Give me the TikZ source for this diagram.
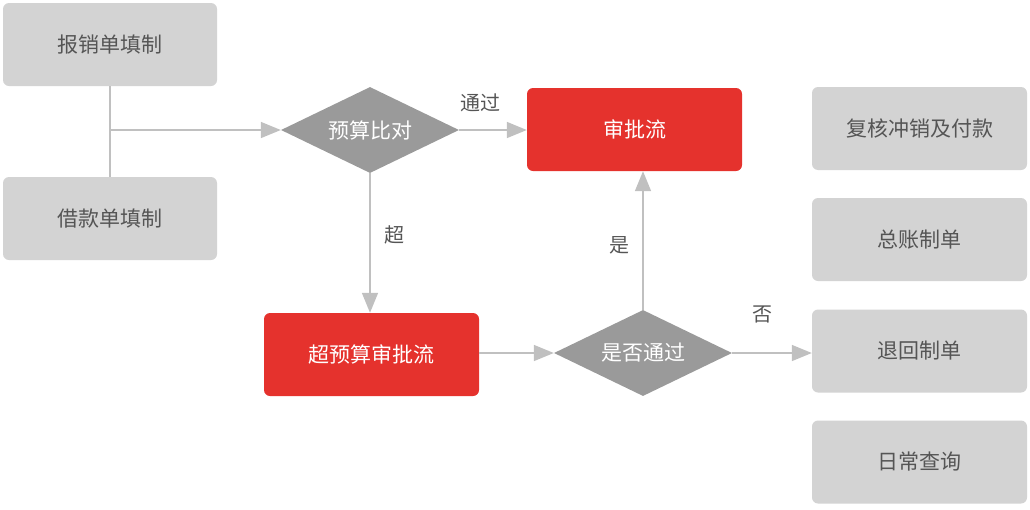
\documentclass[tikz,border=0pt]{standalone}
\usepackage{fontspec}
\setmainfont{Noto Sans CJK SC}
\usetikzlibrary{shapes.geometric,arrows.meta}
\definecolor{boxgray}{HTML}{D3D3D3}
\definecolor{diagray}{HTML}{9A9A9A}
\definecolor{linegray}{HTML}{C0C0C0}
\definecolor{redbox}{HTML}{E5322D}
\definecolor{txtgray}{HTML}{555555}
\begin{document}
\begin{tikzpicture}[x=1pt,y=-1pt,
  graybox/.style={fill=boxgray,rounded corners=6pt,minimum width=214pt,minimum height=83pt,inner sep=0pt,text=txtgray,font=\fontsize{21}{24}\selectfont},
  redrect/.style={fill=redbox,rounded corners=6pt,minimum width=215pt,minimum height=83pt,inner sep=0pt,text=white,font=\fontsize{21}{24}\selectfont},
  decide/.style={diamond,fill=diagray,aspect=2.05,minimum width=178pt,minimum height=86pt,inner sep=0pt,text=white,font=\fontsize{21}{24}\selectfont},
  conn/.style={draw=linegray,line width=1.6pt},
  arr/.style={conn,-{Triangle[length=20pt,width=16pt,fill=linegray]}},
  lbl/.style={text=txtgray,font=\fontsize{20}{24}\selectfont,inner sep=0pt}]
\useasboundingbox (0,0) rectangle (1030,509);
\node[graybox] (bx) at (110,44.5) {报销单填制};
\node[graybox] (jk) at (110,218.5) {借款单填制};
\node[decide] (ys) at (370,130) {预算比对};
\node[redrect] (sp) at (634.5,129.5) {审批流};
\node[redrect] (csp) at (371.5,354.5) {超预算审批流};
\node[decide] (sf) at (643,353) {是否通过};
\node[graybox,minimum width=215pt] (r1) at (919.5,128.5) {复核冲销及付款};
\node[graybox,minimum width=215pt] (r2) at (919.5,239.5) {总账制单};
\node[graybox,minimum width=215pt] (r3) at (919.5,351) {退回制单};
\node[graybox,minimum width=215pt] (r4) at (919.5,462) {日常查询};
\coordinate (j) at (110,130);
\draw[conn] (bx.south) -- (jk.north);
\draw[arr] (j) -- (ys.west);
\draw[arr] (ys.east) -- (sp.west |- ys.east);
\draw[arr] (ys.south) -- (csp.north -| ys.south);
\draw[arr] (csp.east |- sf.west) -- (sf.west);
\draw[arr] (sf.north) -- (sf.north |- sp.south);
\draw[arr] (sf.east) -- (r3.west |- sf.east);
\node[lbl] (l1) at (480,103) {通过};
\node[lbl] (l2) at (394,235) {超};
\node[lbl] (l3) at (619,245) {是};
\node[lbl] (l4) at (762,314) {否};
\end{tikzpicture}
\end{document}
